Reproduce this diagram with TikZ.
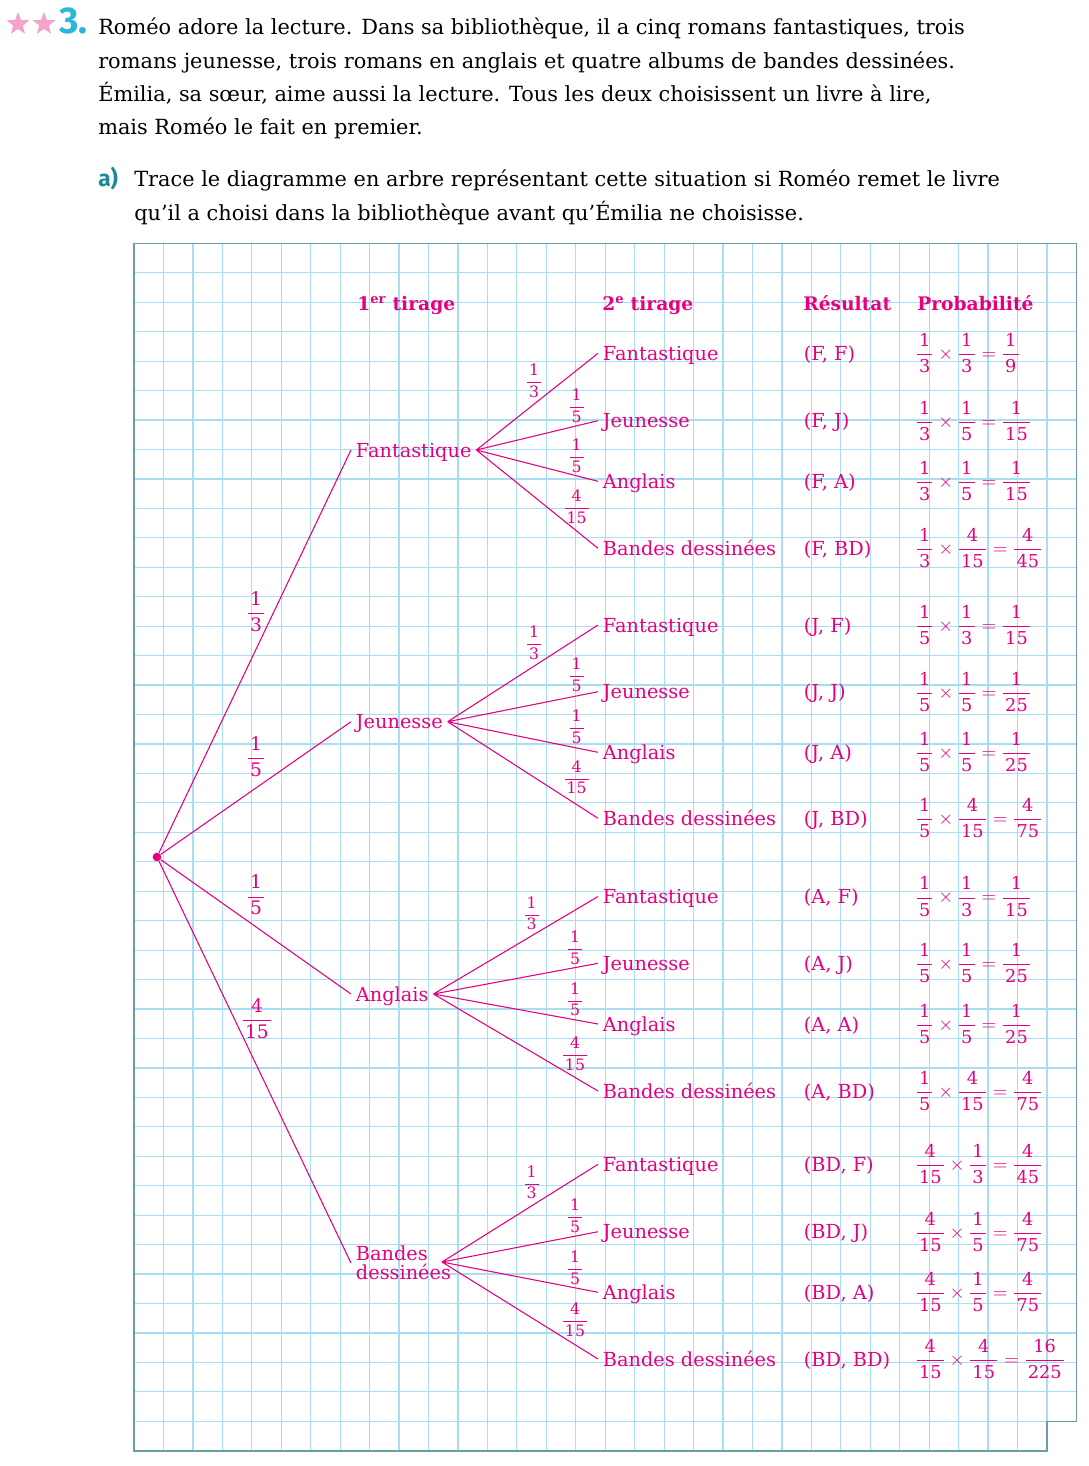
\documentclass[tikz,border=0pt]{standalone}
\usepackage{amsmath}
\usepackage{fontspec}
\usepackage{xcolor}
\setmainfont{DejaVu Serif}
\newfontfamily\titrefont{Fira Sans}
\usetikzlibrary{shapes.geometric}

\definecolor{rose}{HTML}{E5007E}
\definecolor{grille}{HTML}{A8DDF3}
\definecolor{bord}{HTML}{6A9EA5}
\definecolor{cyan3}{HTML}{2CB7D8}
\definecolor{sarcelle}{HTML}{1A8A96}
\definecolor{etoile}{HTML}{F5A3C9}

\newcommand{\fq}[2]{\dfrac{\mbox{\hspace{0.12em}#1\hspace{0.12em}}}{\mbox{\hspace{0.12em}#2\hspace{0.12em}}}}

\begin{document}
\begin{tikzpicture}[x=0.75pt, y=-0.75pt,
    enonce/.style={anchor=base west, inner sep=0pt, font=\fontsize{15.65pt}{20pt}\selectfont},
    entete/.style={anchor=base west, inner sep=0pt, text=rose, font=\fontsize{14pt}{17pt}\selectfont\bfseries},
    feuille/.style={anchor=west, inner xsep=3.5pt, inner ysep=0pt, text height=10.6pt, text depth=0pt,
        text=rose, font=\fontsize{14.5pt}{17pt}\selectfont},
    proba/.style={anchor=west, inner sep=0pt, text=rose, font=\fontsize{13.3pt}{16pt}\selectfont},
    poidsA/.style={inner sep=0pt, text=rose, font=\fontsize{14pt}{17pt}\selectfont},
    poidsB/.style={inner sep=0pt, text=rose, font=\fontsize{11.8pt}{14pt}\selectfont},
    branche/.style={draw=rose, line width=0.8pt}]

    \useasboundingbox (0,0) rectangle (1088,1466);

    % Statement
    \node[star, star points=5, star point ratio=2.4, fill=etoile, inner sep=0pt, minimum size=18pt] (star1) at (18,24) {};
    \node[star, star points=5, star point ratio=2.4, fill=etoile, inner sep=0pt, minimum size=18pt] (star2) at (44,24) {};
    \node[anchor=base west, inner sep=0pt, text=cyan3, font=\titrefont\fontsize{28pt}{30pt}\selectfont\bfseries] (num) at (59,34) {3.};
    \node[enonce] (intro1) at (98,35) {Roméo adore la lecture. Dans sa bibliothèque, il a cinq romans fantastiques, trois};
    \node[enonce] (intro2) at (98,68.3) {romans jeunesse, trois romans en anglais et quatre albums de bandes dessinées.};
    \node[enonce] (intro3) at (98,101.7) {Émilia, sa sœur, aime aussi la lecture. Tous les deux choisissent un livre à lire,};
    \node[enonce] (intro4) at (98,135) {mais Roméo le fait en premier.};
    \node[anchor=base west, inner sep=0pt, text=sarcelle, font=\titrefont\fontsize{17pt}{20pt}\selectfont\bfseries] (qa) at (98,186) {a)};
    \node[enonce] (qa1) at (134,186) {Trace le diagramme en arbre représentant cette situation si Roméo remet le livre};
    \node[enonce] (qa2) at (134,220) {qu’il a choisi dans la bibliothèque avant qu’Émilia ne choisisse.};

    % Squared paper
    \begin{scope}[shift={(134,243.3)}, x=22.0875pt, y=22.0875pt]
        \draw[grille, line width=0.9pt, step=1] (0,-40) grid (32,0);
        \draw[grille, line width=0.9pt, step=1] (0,-41) grid (31,-40);
        \draw[bord, line width=1.1pt] (0,0) -- (32,0) -- (32,-40) -- (31,-40) -- (31,-41) -- (0,-41) -- cycle;
    \end{scope}

    % Column titles
    \node[entete] (h1) at (357,310) {1\textsuperscript{er} tirage};
    \node[entete] (h2) at (602,310) {2\textsuperscript{e} tirage};
    \node[entete] (h3) at (803,310) {Résultat};
    \node[entete] (h4) at (917,310) {Probabilité};

    % First draw
    \node[circle, fill=rose, inner sep=0pt, minimum size=6.5pt] (root) at (157,857) {};
    \node[feuille] (F) at (351,450) {Fantastique};
    \node[feuille] (J) at (351,721.7) {Jeunesse};
    \node[feuille] (A) at (351,994) {Anglais};
    \node[anchor=west, inner xsep=3.5pt, inner ysep=0pt, align=left, text=rose,
        font=\fontsize{14.5pt}{14.6pt}\selectfont] (BD) at (351,1263) {Bandes\\dessinées};
    \coordinate (BDfork) at (442,1262);
    \node[poidsA] (wF) at (256,611.7) {$\fq{1}{3}$};
    \node[poidsA] (wJ) at (256,756.7) {$\fq{1}{5}$};
    \node[poidsA] (wA) at (256,895) {$\fq{1}{5}$};
    \node[poidsA] (wBD) at (257,1018.3) {$\fq{4}{15}$};
    \draw[branche] (root) -- (F.west) (root) -- (J.west) (root) -- (A.west) (root) -- (BD.west);

    % Fantastique branch
    \node[feuille] (FF) at (598,353.3) {Fantastique};
    \node[feuille] (FJ) at (598,420.7) {Jeunesse};
    \node[feuille] (FA) at (598,481.3) {Anglais};
    \node[feuille] (FBD) at (598,548.3) {Bandes dessinées};
    \node[poidsB] (wFF) at (534,381) {$\fq{1}{3}$};
    \node[poidsB] (wFJ) at (576.7,406) {$\fq{1}{5}$};
    \node[poidsB] (wFA) at (576.7,456) {$\fq{1}{5}$};
    \node[poidsB] (wFBD) at (576.7,506.7) {$\fq{4}{15}$};
    \draw[branche] (F.east) -- (FF.west) (F.east) -- (FJ.west) (F.east) -- (FA.west) (F.east) -- (FBD.west);
    \node[feuille] (rFF) at (799,353.3) {(F, F)};
    \node[feuille] (rFJ) at (799,420.7) {(F, J)};
    \node[feuille] (rFA) at (799,481.3) {(F, A)};
    \node[feuille] (rFBD) at (799,548.3) {(F, BD)};
    \node[proba] (pFF) at (915,353.3) {$\fq{1}{3}\times\fq{1}{3}=\fq{1}{9}$};
    \node[proba] (pFJ) at (915,420.7) {$\fq{1}{3}\times\fq{1}{5}=\fq{1}{15}$};
    \node[proba] (pFA) at (915,481.3) {$\fq{1}{3}\times\fq{1}{5}=\fq{1}{15}$};
    \node[proba] (pFBD) at (915,548.3) {$\fq{1}{3}\times\fq{4}{15}=\fq{4}{45}$};

    % Jeunesse branch
    \node[feuille] (JF) at (598,625) {Fantastique};
    \node[feuille] (JJ) at (598,691.7) {Jeunesse};
    \node[feuille] (JA) at (598,752.3) {Anglais};
    \node[feuille] (JBD) at (598,818.3) {Bandes dessinées};
    \node[poidsB] (wJF) at (534,642.7) {$\fq{1}{3}$};
    \node[poidsB] (wJJ) at (576.7,675) {$\fq{1}{5}$};
    \node[poidsB] (wJA) at (576.7,726.7) {$\fq{1}{5}$};
    \node[poidsB] (wJBD) at (576.7,777.3) {$\fq{4}{15}$};
    \draw[branche] (J.east) -- (JF.west) (J.east) -- (JJ.west) (J.east) -- (JA.west) (J.east) -- (JBD.west);
    \node[feuille] (rJF) at (799,625) {(J, F)};
    \node[feuille] (rJJ) at (799,691.7) {(J, J)};
    \node[feuille] (rJA) at (799,752.3) {(J, A)};
    \node[feuille] (rJBD) at (799,818.3) {(J, BD)};
    \node[proba] (pJF) at (915,625) {$\fq{1}{5}\times\fq{1}{3}=\fq{1}{15}$};
    \node[proba] (pJJ) at (915,691.7) {$\fq{1}{5}\times\fq{1}{5}=\fq{1}{25}$};
    \node[proba] (pJA) at (915,752.3) {$\fq{1}{5}\times\fq{1}{5}=\fq{1}{25}$};
    \node[proba] (pJBD) at (915,818.3) {$\fq{1}{5}\times\fq{4}{15}=\fq{4}{75}$};

    % Anglais branch
    \node[feuille] (AF) at (598,896.5) {Fantastique};
    \node[feuille] (AJ) at (598,963.3) {Jeunesse};
    \node[feuille] (AA) at (598,1024) {Anglais};
    \node[feuille] (ABD) at (598,1091) {Bandes dessinées};
    \node[poidsB] (wAF) at (531.7,913.3) {$\fq{1}{3}$};
    \node[poidsB] (wAJ) at (575,947.7) {$\fq{1}{5}$};
    \node[poidsB] (wAA) at (575,999.3) {$\fq{1}{5}$};
    \node[poidsB] (wABD) at (575,1054) {$\fq{4}{15}$};
    \draw[branche] (A.east) -- (AF.west) (A.east) -- (AJ.west) (A.east) -- (AA.west) (A.east) -- (ABD.west);
    \node[feuille] (rAF) at (799,896.5) {(A, F)};
    \node[feuille] (rAJ) at (799,963.3) {(A, J)};
    \node[feuille] (rAA) at (799,1024) {(A, A)};
    \node[feuille] (rABD) at (799,1091) {(A, BD)};
    \node[proba] (pAF) at (915,896.5) {$\fq{1}{5}\times\fq{1}{3}=\fq{1}{15}$};
    \node[proba] (pAJ) at (915,963.3) {$\fq{1}{5}\times\fq{1}{5}=\fq{1}{25}$};
    \node[proba] (pAA) at (915,1024) {$\fq{1}{5}\times\fq{1}{5}=\fq{1}{25}$};
    \node[proba] (pABD) at (915,1091) {$\fq{1}{5}\times\fq{4}{15}=\fq{4}{75}$};

    % Bandes dessinees branch
    \node[feuille] (BDF) at (598,1164.3) {Fantastique};
    \node[feuille] (BDJ) at (598,1231.7) {Jeunesse};
    \node[feuille] (BDA) at (598,1292.3) {Anglais};
    \node[feuille] (BDBD) at (598,1359) {Bandes dessinées};
    \node[poidsB] (wBDF) at (531.7,1182.3) {$\fq{1}{3}$};
    \node[poidsB] (wBDJ) at (575,1215.7) {$\fq{1}{5}$};
    \node[poidsB] (wBDA) at (575,1267.7) {$\fq{1}{5}$};
    \node[poidsB] (wBDBD) at (575,1320) {$\fq{4}{15}$};
    \draw[branche] (BDfork) -- (BDF.west) (BDfork) -- (BDJ.west) (BDfork) -- (BDA.west) (BDfork) -- (BDBD.west);
    \node[feuille] (rBDF) at (799,1164.3) {(BD, F)};
    \node[feuille] (rBDJ) at (799,1231.7) {(BD, J)};
    \node[feuille] (rBDA) at (799,1292.3) {(BD, A)};
    \node[feuille] (rBDBD) at (799,1359) {(BD, BD)};
    \node[proba] (pBDF) at (915,1164.3) {$\fq{4}{15}\times\fq{1}{3}=\fq{4}{45}$};
    \node[proba] (pBDJ) at (915,1231.7) {$\fq{4}{15}\times\fq{1}{5}=\fq{4}{75}$};
    \node[proba] (pBDA) at (915,1292.3) {$\fq{4}{15}\times\fq{1}{5}=\fq{4}{75}$};
    \node[proba] (pBDBD) at (915,1359) {$\fq{4}{15}\times\fq{4}{15}=\fq{16}{225}$};
\end{tikzpicture}
\end{document}
